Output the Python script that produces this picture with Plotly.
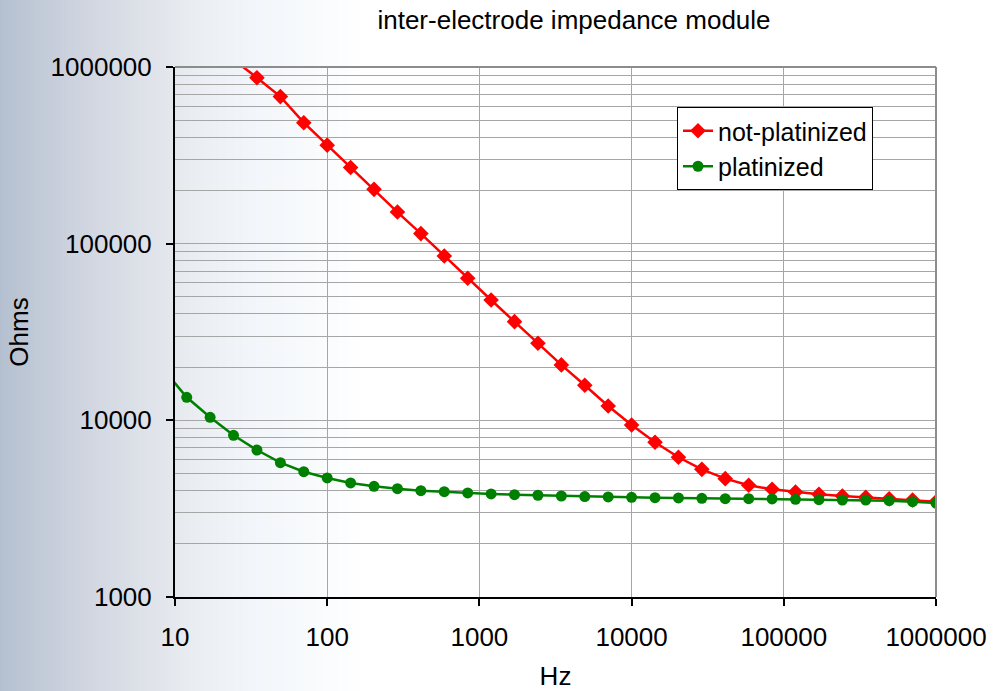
import plotly.graph_objects as go

# ---- data ----
freq_hz = [8.377, 11.94, 17.01, 24.24, 34.55, 49.24, 70.17, 100, 142.5, 203.1,
           289.4, 412.5, 587.8, 837.7, 1193.8, 1701.3, 2424.5, 3455.1, 4923.9,
           7017.0, 10000, 14251, 20309, 28943, 41246, 58780, 83768, 119378,
           170125, 242446, 345511, 492388, 701704, 1000000]

not_platinized = [1550000, 1100000, 870000, 680000, 484000, 361000, 270000, 203000,
                  151000, 114000, 85200, 63700, 48000, 36200, 27300, 20600, 15800,
                  12050, 9410, 7510, 6180, 5280, 4675, 4290, 4070, 3930, 3815, 3730,
                  3667, 3600, 3540, 3462]

platinized = [19500, 13500, 10400, 8230, 6790, 5760, 5120, 4718, 4420, 4233, 4103,
              3997, 3945, 3880, 3830, 3795, 3767, 3730, 3700, 3683, 3667, 3650, 3635,
              3620, 3600, 3600, 3588, 3570, 3555, 3540, 3540, 3508, 3462, 3405]

x_ticks = [10, 100, 1000, 10000, 100000, 1000000]
x_ticktext = ["10", "100", "1000", "10000", "100000", "1000000"]
y_ticks = [1000, 10000, 100000, 1000000]
y_ticktext = ["1000", "10000", "100000", "1000000"]
y_minor = [m * 10 ** e for e in (3, 4, 5) for m in range(2, 10)]

# ---- layout geometry ----
W, H = 995, 691
ML, MR, MT, MB = 175, 59, 67, 94
PW, PH = W - ML - MR, H - MT - MB
FONT = "Liberation Sans, Arial, sans-serif"
FS = 26

fig = go.Figure()
fig.add_trace(go.Scatter(
    x=freq_hz[2:], y=not_platinized, name="not-platinized",
    mode="lines+markers",
    line=dict(color="#ff0000", width=2.5),
    marker=dict(symbol="diamond", size=12, color="#ff0000"),
))
fig.add_trace(go.Scatter(
    x=freq_hz, y=platinized, name="platinized",
    mode="lines+markers",
    line=dict(color="#008000", width=2.5),
    marker=dict(symbol="circle", size=11, color="#008000"),
))

# background gradient (left side) as thin stripes
stops = [(0, (180, 192, 208)), (70, (204, 210, 222)), (140, (221, 225, 232)),
         (200, (235, 238, 242)), (260, (243, 246, 250)), (330, (250, 252, 253)),
         (365, (255, 255, 255))]

def grad(px):
    for (a, ca), (b, cb) in zip(stops[:-1], stops[1:]):
        if a <= px <= b:
            t = (px - a) / (b - a)
            return tuple(round(ca[i] + (cb[i] - ca[i]) * t) for i in range(3))
    return (255, 255, 255)

shapes = []
step = 2
for px in range(0, 366, step):
    c = grad(px + step / 2)
    shapes.append(dict(
        type="rect", xref="paper", yref="paper", layer="below",
        x0=(px - ML) / PW, x1=(px + step + 0.6 - ML) / PW,
        y0=-MB / PH - 0.01, y1=1 + MT / PH + 0.01,
        fillcolor="rgb(%d,%d,%d)" % c, line=dict(width=0),
    ))
# top and right border of plot area
shapes.append(dict(type="line", xref="paper", yref="paper", x0=0, x1=1, y0=1, y1=1,
                   line=dict(color="#8c8c8c", width=2), layer="above"))
shapes.append(dict(type="line", xref="paper", yref="paper", x0=1, x1=1, y0=0, y1=1,
                   line=dict(color="#8c8c8c", width=2), layer="above"))

fig.update_layout(
    width=W, height=H,
    margin=dict(l=ML, r=MR, t=MT, b=MB, pad=0, autoexpand=False),
    paper_bgcolor="white", plot_bgcolor="rgba(0,0,0,0)",
    font=dict(family=FONT, size=FS, color="black"),
    title=dict(text="inter-electrode impedance module", xref="container", yref="container",
               x=574 / W, xanchor="center", y=1 - 20 / H, yanchor="middle",
               font=dict(family=FONT, size=FS, color="black")),
    shapes=shapes,
    showlegend=True,
    legend=dict(x=(677 - ML) / PW, y=1 - (107 - MT) / PH, xanchor="left", yanchor="top",
                bgcolor="white", bordercolor="black", borderwidth=1,
                font=dict(family=FONT, size=25, color="black"),
                tracegroupgap=0, itemwidth=30),
    xaxis=dict(type="log", range=[1, 6], tickmode="array", tickvals=x_ticks,
               ticktext=x_ticktext, showgrid=True, gridcolor="#a6a6a6", gridwidth=1,
               showline=True, linecolor="black", linewidth=2, ticks="outside",
               ticklen=7, tickcolor="black", tickwidth=2, ticklabelstandoff=9,
               zeroline=False, automargin=False,
               title=dict(text="Hz", standoff=20, font=dict(family=FONT, size=FS))),
    yaxis=dict(type="log", range=[3, 6], tickmode="array", tickvals=y_ticks,
               ticktext=y_ticktext, showgrid=True, gridcolor="#a6a6a6", gridwidth=1,
               minor=dict(tickmode="array", tickvals=y_minor, showgrid=True,
                          gridcolor="#a6a6a6", gridwidth=1, ticks=""),
               showline=True, linecolor="black", linewidth=2, ticks="outside",
               ticklen=7, tickcolor="black", tickwidth=2, ticklabelstandoff=9,
               zeroline=False, automargin=False,
               title=dict(text="Ohms", standoff=14, font=dict(family=FONT, size=FS))),
)

fig.write_html("out.html")
